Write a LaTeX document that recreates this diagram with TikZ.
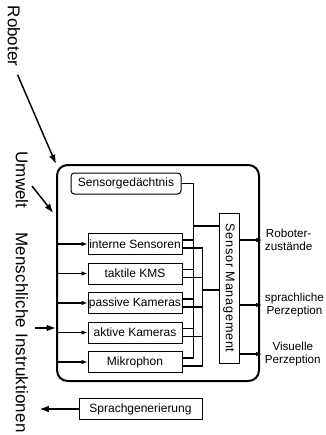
\documentclass[tikz,border=0pt]{standalone}
\usepackage{fontspec}
\setmainfont{Liberation Sans}
\usetikzlibrary{arrows.meta,calc}
\begin{document}
\begin{tikzpicture}[x=0.75pt,y=-0.75pt,
  side/.style={rotate=-90,inner sep=0pt,font=\fontsize{12.75}{14}\selectfont},
  frame/.style={draw,line width=1.5pt,rounded corners=8pt,minimum width=151.5pt,minimum height=162pt,inner sep=0pt},
  unitbox/.style={draw,line width=0.75pt,minimum width=70.5pt,minimum height=15.75pt,inner sep=0pt,font=\fontsize{9}{10}\selectfont},
  memorybox/.style={unitbox,rounded corners=2.5pt,minimum width=82.5pt},
  smbox/.style={draw,line width=0.75pt,minimum width=15pt,minimum height=112.5pt,inner sep=0pt},
  outlabel/.style={anchor=west,align=center,inner sep=2pt,font=\fontsize{8.75}{10.2}\selectfont},
  wire/.style={line width=0.8pt},
  bigarrow/.style={line width=1.1pt,-{Latex[length=7pt,width=5pt]}},
  inarrow/.style={line width=1pt,-{Latex[length=4.5pt,width=3.5pt]}},
  outarrow/.style={line width=1.1pt,-{Latex[length=4.5pt,width=3.5pt]}}]
\useasboundingbox (0,0) rectangle (325,435);

% outer system frame
\node[frame] (main) at (158,273) {};

% sensor units
\node[memorybox] (sg) at (126,183.5) {Sensorgedächtnis};
\node[unitbox] (s1) at (135,244) {interne Sensoren};
\node[unitbox] (s2) at (135,273.5) {taktile KMS};
\node[unitbox] (s3) at (135,303) {passive Kameras};
\node[unitbox] (s4) at (135,332.5) {aktive Kameras};
\node[unitbox] (s5) at (135,362) {Mikrophon};

% sensor management block
\node[smbox] (sm) at (229,288) {};
\node[rotate=-90,inner sep=0pt,font=\fontsize{9.5}{11}\selectfont\addfontfeature{LetterSpace=6}] (smtext) at (sm.center) {Sensor Management};

% speech generation
\node[unitbox,minimum width=92.25pt] (spg) at (140.5,409) {Sprachgenerierung};

% wiring: two buses collecting the sensor outputs
\foreach \i in {1,...,5}{
  \draw[wire] ([yshift=3pt]s\i.east) -- ++(11,0);
  \draw[wire] ([yshift=-3pt]s\i.east) -- ++(20,0);
  \draw[inarrow] (main.west |- s\i.west) -- (s\i.west);
}
\draw[wire] (sg.east) -| ($(s5.east)+(11,-4)$);
\draw[wire] ($(s1.east)+(20,4)$) -- ($(s5.east)+(20,4)$);
\draw[wire] ([yshift=46.5pt]sm.west) -- ++(-26,0);
\draw[wire] ([yshift=-1.5pt]sm.west) -- ++(-17,0);

% outputs
\node[outlabel] (o1) at (262,240) {Roboter-\\zustände};
\node[outlabel] (o2) at (262,305) {sprachliche\\Perzeption};
\node[outlabel] (o3) at (262,354) {Visuelle\\Perzeption};
\draw[outarrow] (sm.east |- o1.west) -- (o1.west);
\draw[outarrow] (sm.east |- o2.west) -- (o2.west);
\draw[outarrow] (sm.east |- o3.west) -- (o3.west);

% external influences
\node[side] (rob) at (14,36) {Roboter};
\node[side] (umw) at (22,180) {Umwelt};
\node[side,font=\fontsize{12.75}{14}\selectfont\addfontfeature{LetterSpace=1}] (mi) at (22,332.5) {Menschliche Instruktionen};
\coordinate (uwA) at (32,186);
\coordinate (miA) at (35,328);
\draw[bigarrow,shorten <=6.75pt] (rob.east) -- (main.north west);
\draw[bigarrow] (uwA) -- ([xshift=-2pt,yshift=45pt]main.west);
\draw[bigarrow] (miA) -- (main.west |- miA);
\draw[bigarrow] (spg.west) -- ++(-39,0);
\end{tikzpicture}
\end{document}
